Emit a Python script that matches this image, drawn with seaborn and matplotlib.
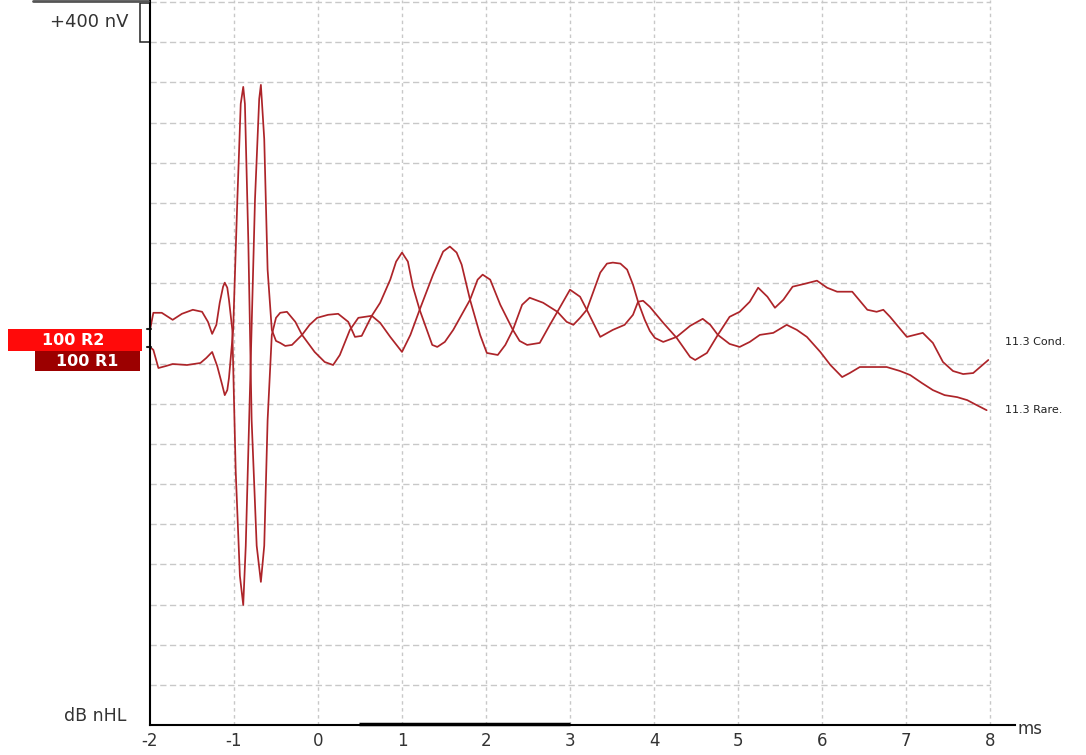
import numpy as np
import pandas as pd
import matplotlib
matplotlib.use('Agg')
import matplotlib.pyplot as plt
import seaborn as sns
from matplotlib.patches import Rectangle
from matplotlib.lines import Line2D

# traces (ms, nV relative to each trace baseline)
cond_ms = [-2.0, -1.96, -1.86, -1.73, -1.62, -1.49, -1.38, -1.31, -1.26, -1.21, -1.17, -1.13, -1.11, -1.08,
           -1.06, -1.02, -0.98, -0.93, -0.89, -0.86, -0.81, -0.75, -0.70, -0.68, -0.64, -0.60, -0.55, -0.50,
           -0.45, -0.39, -0.31, -0.19, -0.10, -0.01, 0.12, 0.24, 0.36, 0.44, 0.52, 0.64, 0.74, 0.86, 0.93,
           1.00, 1.07, 1.13, 1.21, 1.36, 1.42, 1.51, 1.61, 1.81, 1.90, 1.96, 2.05, 2.17, 2.32, 2.40, 2.49,
           2.64, 2.76, 2.85, 3.00, 3.12, 3.20, 3.36, 3.51, 3.65, 3.75, 3.81, 3.87, 3.95, 4.11, 4.27, 4.43,
           4.49, 4.63, 4.76, 4.90, 5.02, 5.14, 5.24, 5.35, 5.44, 5.54, 5.65, 5.80, 5.94, 6.06, 6.18, 6.36,
           6.54, 6.65, 6.73, 6.81, 7.01, 7.20, 7.32, 7.44, 7.56, 7.68, 7.80, 7.98]
cond_nv = [-10, 160, 160, 90, 150, 190, 170, 70, -50, 40, 260, 420, 460, 410,
           290, -10, -1410, -2460, -2750, -2160, -610, 1290, 2290, 2430, 1890, 590, -10, -120,
           -140, -170, -160, -60, 40, 110, 140, 150, 70, -80, -70, 130, 260, 490, 670,
           760, 670, 420, 190, -160, -180, -130, -10, 290, 490, 540, 490, 240, -10, -120, -160,
           -140, 40, 170, 390, 320, 190, -80, -10, 40, 140, 270, 280, 220, 60, -90, -280,
           -310, -240, -60, 120, 170, 270, 410, 320, 210, 290, 420, 450, 480, 410, 370, 370,
           190, 170, 190, 120, -80, -40, -140, -330, -420, -450, -440, -310]

rare_ms = [-2.0, -1.96, -1.90, -1.81, -1.73, -1.56, -1.40, -1.33, -1.26, -1.20, -1.14, -1.11, -1.08, -1.06,
           -1.01, -0.96, -0.92, -0.89, -0.87, -0.83, -0.79, -0.73, -0.68, -0.64, -0.60, -0.55, -0.50, -0.45,
           -0.37, -0.27, -0.19, -0.04, 0.08, 0.18, 0.26, 0.38, 0.48, 0.64, 0.74, 0.86, 1.00, 1.10, 1.21,
           1.37, 1.49, 1.57, 1.65, 1.71, 1.81, 1.93, 2.01, 2.14, 2.23, 2.32, 2.43, 2.52, 2.68, 2.85, 2.96,
           3.04, 3.12, 3.20, 3.36, 3.44, 3.51, 3.60, 3.68, 3.75, 3.81, 3.89, 3.95, 4.01, 4.11, 4.27, 4.43,
           4.58, 4.67, 4.76, 4.90, 5.02, 5.14, 5.26, 5.42, 5.58, 5.70, 5.82, 5.98, 6.10, 6.24, 6.33, 6.45,
           6.77, 6.93, 7.05, 7.19, 7.32, 7.46, 7.61, 7.73, 7.82, 7.96]
rare_nv = [0, -30, -210, -190, -170, -180, -160, -110, -50, -190, -380, -480, -430, -310,
           170, 1470, 2420, 2590, 2420, 1070, -730, -1980, -2340, -1980, -730, 120, 290, 340,
           350, 250, 120, -50, -150, -180, -80, 170, 290, 310, 240, 100, -50, 120, 370,
           720, 950, 1000, 940, 820, 470, 120, -60, -80, 20, 170, 420, 490, 440, 350, 250,
           220, 290, 370, 740, 830, 840, 830, 770, 620, 450, 270, 160, 90, 50, 100, 210,
           280, 220, 120, 30, 0, 50, 120, 140, 220, 170, 100, -50, -180, -300, -260, -200,
           -200, -240, -280, -360, -430, -480, -500, -530, -570, -630]

cond_offset = 3945
rare_offset = 3765
x_ticks = list(range(-2, 9))
y_grid = list(range(0, 7201, 400))

trace_color = '#ad2429'
grid_color = '#c8c8c8'
text_color = '#333333'

df_cond = pd.DataFrame({'ms': cond_ms, 'nV': np.array(cond_nv) + cond_offset})
df_rare = pd.DataFrame({'ms': rare_ms, 'nV': np.array(rare_nv) + rare_offset})

sns.set_style('white')
plt.rcParams['font.family'] = ['DejaVu Sans']
plt.rcParams['axes.unicode_minus'] = False

W, H = 1086, 755
fig = plt.figure(figsize=(W / 100, H / 100), dpi=100)
ax = fig.add_axes([150 / W, 30 / H, 865 / W, 725 / H])

# grid
ax.vlines(x_ticks[1:], 0, 7220, colors=grid_color, lw=1, linestyles=(0, (2.5, 2.5)), zorder=0)
ax.hlines(y_grid[1:], -2, 8, colors=grid_color, lw=1, linestyles=(0, (4.5, 2.5)), zorder=0)

sns.lineplot(data=df_cond, x='ms', y='nV', color=trace_color, lw=1.25, ax=ax, estimator=None, sort=False)
sns.lineplot(data=df_rare, x='ms', y='nV', color=trace_color, lw=1.25, ax=ax, estimator=None, sort=False)

ax.set_xlim(-2, 8 + 25 / 84)
ax.set_ylim(0, 7220)
ax.set_xticks(x_ticks)
ax.set_yticks([])
ax.set_xlabel('')
ax.set_ylabel('')
ax.tick_params(axis='x', length=0, pad=5, labelsize=12, labelcolor=text_color)
for s in ['top', 'right']:
    ax.spines[s].set_visible(False)
for s in ['left', 'bottom']:
    ax.spines[s].set_color('black')
    ax.spines[s].set_linewidth(1.5)

# analysis window bar
ax.plot([0.49, 3.0], [14, 14], color='black', lw=2.5, clip_on=False, solid_capstyle='butt')

# scale box
ax.add_patch(Rectangle((-2.115, 6800), 0.115, 390, fill=False, ec='#222222', lw=1.1, clip_on=False))
ax.text(-2.26, 7000, '+400 nV', ha='right', va='center', fontsize=13, color=text_color, clip_on=False)
ax.text(-2.28, 85, 'dB nHL', ha='right', va='center', fontsize=12.5, color=text_color, clip_on=False)
ax.text(8.33, -40, 'ms', ha='left', va='center', fontsize=12, color=text_color, clip_on=False)

# trace labels at the right
ax.text(8.18, 3810, '11.3 Cond.', ha='left', va='center', fontsize=8, color='#222222')
ax.text(8.18, 3140, '11.3 Rare.', ha='left', va='center', fontsize=8, color='#222222')

# baseline markers
for off in [cond_offset, rare_offset]:
    ax.plot([-2.04, -1.985], [off, off], color='#222222', lw=1.5, clip_on=False)


def fig_box(x0, y0, x1, y1, color):
    fig.add_artist(Rectangle((x0 / W, 1 - y1 / H), (x1 - x0) / W, (y1 - y0) / H,
                             transform=fig.transFigure, color=color, lw=0))


fig_box(8, 329, 142, 351, '#ff0a0a')
fig_box(35, 351, 140, 371, '#9c0000')
fig.text(73 / W, 1 - 340 / H, '100 R2', ha='center', va='center', color='white',
         fontsize=11.5, fontweight='bold')
fig.text(87 / W, 1 - 361 / H, '100 R1', ha='center', va='center', color='white',
         fontsize=11.5, fontweight='bold')

fig.add_artist(Line2D([33 / W, 148 / W], [1 - 1 / H, 1 - 1 / H], color='#555555', lw=2,
                      transform=fig.transFigure))

fig.savefig('out.png', dpi=100)
